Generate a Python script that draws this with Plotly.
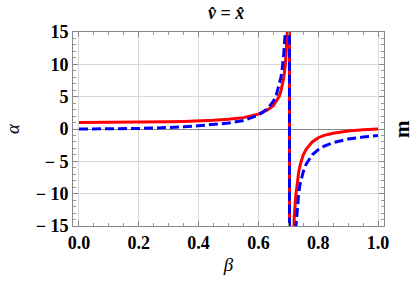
import plotly.graph_objects as go

# beta values (x) and readings of the two curves
beta_left = [0.0, 0.05, 0.1, 0.15, 0.2, 0.25, 0.3, 0.35, 0.4, 0.45, 0.5, 0.55, 0.6,
             0.63, 0.65, 0.66, 0.67, 0.675, 0.68, 0.685, 0.69, 0.695, 0.698, 0.7035]
alpha_left = [1.0, 1.0, 1.01, 1.02, 1.04, 1.07, 1.11, 1.17, 1.24, 1.34, 1.5, 1.76, 2.29,
              2.95, 3.6, 4.3, 5.1, 5.8, 6.7, 8.0, 9.9, 13.0, 16.0, 60.0]
m_left = [0.0, 0.005, 0.02, 0.047, 0.085, 0.14, 0.215, 0.33, 0.5, 0.7, 0.92, 1.3, 2.15,
          3.1, 4.3, 5.3, 6.8, 7.9, 9.5, 11.7, 15.2, 19.5, 24.0, 60.0]

beta_right = [0.7045, 0.712, 0.716, 0.72, 0.725, 0.73, 0.735, 0.74, 0.75, 0.76, 0.77,
              0.78, 0.8, 0.82, 0.85, 0.9, 0.95, 1.0]
alpha_right = [-60.0, -25.0, -17.5, -13.5, -10.3, -8.0, -6.6, -5.5, -4.0, -3.1, -2.5,
               -2.0, -1.35, -0.98, -0.65, -0.32, -0.13, 0.0]
m_right = [-80.0, -40.0, -23.0, -19.0, -15.5, -11.7, -9.8, -8.4, -6.6, -5.4, -4.6,
           -4.0, -3.2, -2.65, -2.1, -1.56, -1.24, -1.0]

beta = beta_left + beta_right
alpha = alpha_left + alpha_right
m = m_left + m_right

x_ticks = [0.0, 0.2, 0.4, 0.6, 0.8, 1.0]
y_ticks = [-15, -10, -5, 0, 5, 10, 15]

SERIF = "Liberation Serif"

fig = go.Figure()
fig.add_trace(go.Scatter(x=beta, y=alpha, mode="lines",
                         line=dict(color="#ff0000", width=3), showlegend=False))
fig.add_trace(go.Scatter(x=beta, y=m, mode="lines",
                         line=dict(color="#0000ff", width=3, dash="9px,4px"),
                         showlegend=False))

tickfont = dict(family=SERIF, size=18, color="black", weight="bold")
fig.update_layout(
    width=415, height=284,
    font=dict(family=SERIF),
    margin=dict(l=68, r=31, t=32, b=57),
    paper_bgcolor="white", plot_bgcolor="white",
    title=dict(text="<b><i>v̂</i> = <i>x̂</i></b>", x=0.545, xanchor="center",
               y=0.955, yanchor="middle",
               font=dict(family=SERIF, size=18, color="black", weight="bold")),
    xaxis=dict(range=[-0.02, 1.02], tickvals=x_ticks, ticktext=[f"{v:.1f}" for v in x_ticks],
               tickfont=tickfont, ticks="inside", ticklen=5, tickcolor="#888",
               showline=True, linecolor="#888", linewidth=1, mirror="ticks",
               showgrid=True, gridcolor="#d8d8d8", zeroline=False,
               minor=dict(dtick=0.05, ticks="inside", ticklen=3, tickcolor="#999", showgrid=False),
               title=dict(text="<i>β</i>", font=dict(family=SERIF, size=19, color="black"),
                          standoff=6)),
    yaxis=dict(range=[-15, 15], tickvals=y_ticks, ticktext=[f"{v}".replace("-", "− ") for v in y_ticks],
               tickfont=tickfont, ticks="inside", ticklen=5, tickcolor="#888",
               showline=True, linecolor="#888", linewidth=1, mirror="ticks",
               showgrid=True, gridcolor="#d8d8d8",
               zeroline=True, zerolinecolor="#888", zerolinewidth=1,
               minor=dict(dtick=1, ticks="inside", ticklen=3, tickcolor="#999", showgrid=False),
               title=dict(text="<i>α</i>", font=dict(family=SERIF, size=19, color="black"),
                          standoff=10)),
)
fig.add_annotation(text="m", xref="paper", yref="paper", x=1.058, y=0.5,
                   textangle=-90, showarrow=False, xanchor="center", yanchor="middle",
                   font=dict(family=SERIF, size=21, color="black", weight="bold"))

fig.write_html("out.html", config={"displayModeBar": False},
               post_script="document.body.style.margin='0';document.body.style.padding='0';")
